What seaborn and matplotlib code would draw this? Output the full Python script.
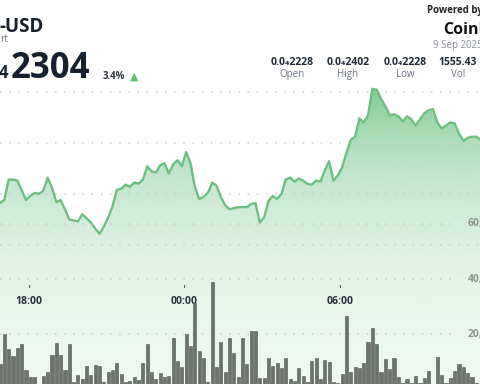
import matplotlib
matplotlib.use("Agg")
import matplotlib.pyplot as plt
import matplotlib.transforms as mtransforms
from matplotlib.colors import LinearSegmentedColormap
import seaborn as sns
import numpy as np
import pandas as pd

# price, one value per 10 minutes (units of 1e-8 USD)
price = [2291, 2294, 2314, 2314, 2313, 2304, 2294, 2298, 2301, 2300,
         2303, 2316, 2306, 2292, 2294, 2285, 2275, 2274, 2273, 2280,
         2276, 2272, 2266, 2261, 2268, 2277, 2288, 2304, 2305, 2309,
         2307, 2311, 2310, 2314, 2327, 2322, 2321, 2328, 2330, 2320,
         2329, 2333, 2327, 2341, 2330, 2307, 2295, 2297, 2301, 2311,
         2308, 2297, 2289, 2285, 2286, 2287, 2287, 2287, 2290, 2291,
         2272, 2277, 2293, 2298, 2295, 2300, 2314, 2316, 2312, 2315,
         2313, 2310, 2309, 2313, 2312, 2323, 2332, 2313, 2318, 2326,
         2340, 2353, 2356, 2374, 2370, 2377, 2403, 2402, 2393, 2386,
         2377, 2378, 2376, 2371, 2376, 2373, 2367, 2373, 2379, 2382,
         2383, 2370, 2364, 2367, 2370, 2369, 2359, 2352, 2355, 2356,
         2356, 2353, 2356]

# volume per 10 minutes (thousands)
volume = [9.1, 20.0, 14.5, 12.0, 14.9, 16.4, 6.9, 4.4, 4.4, 1.8,
          4.7, 6.2, 12.4, 16.7, 12.4, 6.9, 16.4, 2.5, 5.1, 3.6,
          8.4, 5.1, 8.7, 8.4, 2.5, 6.2, 6.9, 9.5, 5.5, 2.5,
          2.9, 4.4, 3.3, 9.5, 16.4, 6.2, 3.6, 5.8, 4.4, 4.7,
          18.5, 10.2, 8.0, 20.0, 15.6, 31.3, 13.8, 11.3, 2.5, 38.9,
          8.0, 17.1, 6.2, 18.5, 13.1, 4.4,
          18.5, 9.1, 21.1, 21.1, 4.0, 4.0, 11.3, 8.4, 9.5, 7.6,
          11.3, 3.6, 2.9, 7.6, 4.7, 2.5, 10.2, 11.3, 3.6, 10.5,
          9.8, 2.5, 2.2, 5.5, 26.5, 6.2, 8.0, 7.6, 9.5, 17.1,
          22.2, 16.4, 6.2, 10.9, 7.3, 11.3, 4.4, 2.2, 3.6, 2.2,
          4.7, 2.2, 4.0, 6.5, 1.8, 11.6, 5.1, 2.2, 4.0, 6.5,
          9.1, 8.0, 5.8, 4.4, 2.2]

start_hour = 16.9
price_grid = [2400, 2350, 2300, 2250]
vol_grid = [20, 40, 60]
vol_labels = ["20,000", "40,000", "60,000"]
time_ticks = [18, 24, 30]
time_labels = ["18:00", "00:00", "06:00"]

df_p = pd.DataFrame({"hour": start_hour + np.arange(len(price)) / 6, "price": price})
df_v = pd.DataFrame({"hour": start_hour + np.arange(len(volume)) / 6, "volume": volume})

sns.set_style("white")
plt.rcParams["font.family"] = ["Open Sans", "DejaVu Sans"]

fig = plt.figure(figsize=(4.8, 3.84), dpi=100)
ax = fig.add_axes([0, 0, 1, 1])
ax2 = ax.twinx()
ax.set_zorder(1)
ax2.set_zorder(2)
ax.patch.set_visible(True)
ax2.patch.set_visible(False)

xlim = (start_hour, start_hour + 480 / 25.98)
ylim = (2113.7, 2490)
ax.set_xlim(xlim)
ax.set_ylim(ylim)

line_col = "#6dbf80"
# gradient area under the price line
poly = ax.fill_between(df_p["hour"], df_p["price"], ylim[0], facecolor="none", edgecolor="none")
rows = np.linspace(0, 1, 300)
alpha = 0.05 + 0.75 * np.exp(-(rows * 384 - 89).clip(0) / 110)
grad = np.zeros((300, 1, 4))
grad[:, 0, 0] = 100 / 255
grad[:, 0, 1] = 190 / 255
grad[:, 0, 2] = 122 / 255
grad[:, 0, 3] = alpha
img = ax.imshow(grad, extent=[xlim[0], xlim[1], ylim[0], ylim[1]], aspect="auto",
                origin="upper", zorder=1, interpolation="bilinear")
img.set_clip_path(poly.get_paths()[0], transform=ax.transData)

for g in price_grid:
    ax.axhline(g, color="#c9cbc9", lw=1.1, ls=(0, (1, 5)), zorder=2)

sns.lineplot(data=df_p, x="hour", y="price", ax=ax, color=line_col, lw=1.7, zorder=3)
ax.set_xlim(xlim)
ax.set_ylim(ylim)

# volume bars
sns.barplot(data=df_v, x="hour", y="volume", ax=ax2, native_scale=True, width=0.72,
            color="#6f736f", edgecolor="#4f534f", linewidth=0.4, saturation=1)
ax2.set_ylim(1.82, 141.45)
ax2.set_xlim(xlim)
for g, lab in zip(vol_grid, vol_labels):
    ax2.axhline(g, xmax=0.955, color="#c9cbc9", lw=1.1, ls=(0, (1, 5)), zorder=0)
    ax2.text(468 / 480, g, lab, transform=mtransforms.blended_transform_factory(ax2.transAxes, ax2.transData),
             ha="left", va="center", fontsize=7.5, fontweight="bold", color="#8f958f")

for a in (ax, ax2):
    a.set_xticks([])
    a.set_yticks([])
    a.set_xlabel("")
    a.set_ylabel("")
    for s in a.spines.values():
        s.set_visible(False)

tr = mtransforms.blended_transform_factory(ax.transData, ax.transAxes)
for t, lab in zip(time_ticks, time_labels):
    ax.plot([t, t], [1 - 285 / 384, 1 - 287 / 384], transform=tr, color="#555", lw=0.8, zorder=4)
    ax.text(t, 1 - 301 / 384, lab, transform=tr, ha="center", va="center",
            fontsize=7.5, fontweight="bold", color="#2a2f3a", zorder=4)


def ftext(x, y, s, **kw):
    fig.text(x / 480, 1 - y / 384, s, **kw)


dark = "#16202e"
grey = "#6b7280"
ftext(-1, 32, "-USD", fontsize=13.5, fontweight="bold", color=dark, va="baseline")
ftext(0, 42, "rt", fontsize=7.5, color=grey, va="baseline")
ftext(-1, 78, "4", fontsize=12, fontweight="bold", color=dark, va="baseline")
ftext(11, 78, "2304", fontsize=25, fontweight="bold", color=dark, va="baseline")
ftext(103, 79, "3.4%", fontsize=7, fontweight="bold", color="#333a44", va="baseline")
ftext(130, 80, "▲", fontsize=8, color="#5cbf73", va="baseline", family="DejaVu Sans")

ftext(427, 13, "Powered by", fontsize=7, fontweight="bold", color="#222", va="baseline")
ftext(443, 34, "CoinDesk", fontsize=11.5, fontweight="bold", color="#111", va="baseline")
ftext(433, 48, "9 Sep 2025", fontsize=7, color="#8a8f98", va="baseline")
# logo mark
for (x0, y0, w, h) in [(427, 22, 2, 12), (427, 22, 5, 2), (427, 32, 5, 2),
                       (433, 26, 4, 4), (438, 22, 2, 5), (438, 29, 2, 5)]:
    fig.add_artist(plt.Rectangle((x0 / 480, 1 - (y0 + h) / 384), w / 480, h / 384,
                                 transform=fig.transFigure, color="#111", lw=0))

stats = ["0.0\u20842228", "0.0\u20842402", "0.0\u20842228", "1555.43"]
stat_names = ["Open", "High", "Low", "Vol"]
stat_x = [292, 348, 405, 458]
for x, v, n in zip(stat_x, stats, stat_names):
    ftext(x, 65, v, fontsize=7.5, fontweight="bold", color="#1f2937", ha="center", va="baseline",
          family=["Open Sans", "DejaVu Sans"])
    ftext(x, 77, n, fontsize=7, color=grey, ha="center", va="baseline")

fig.savefig("out.png", dpi=100)
